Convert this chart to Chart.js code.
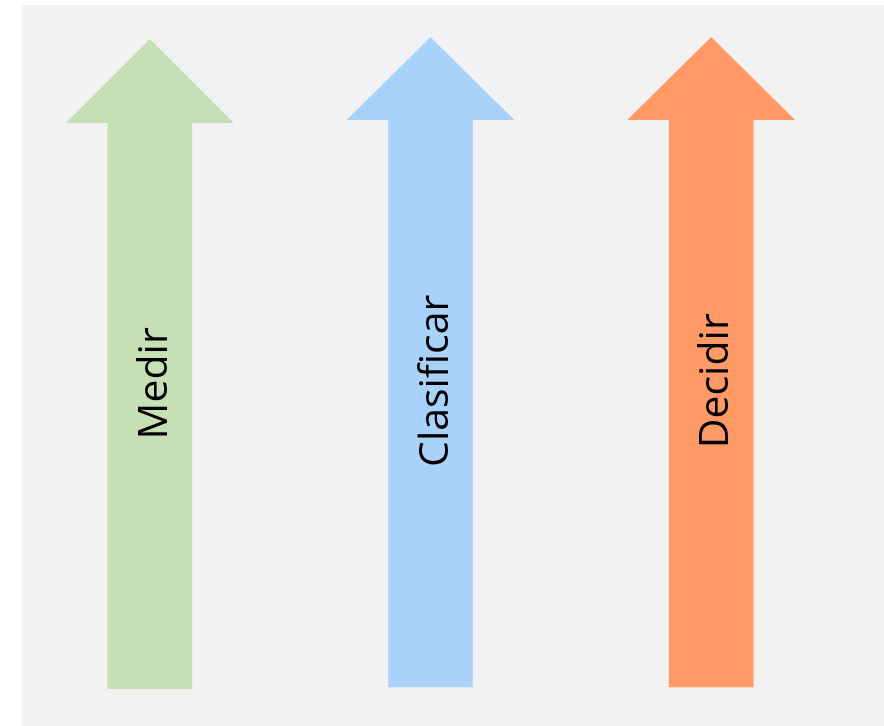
<!DOCTYPE html>
<html>
<head>
<meta charset="utf-8">
<script src="https://cdn.jsdelivr.net/npm/chart.js@4"></script>
<style>
    html, body { margin: 0; padding: 0; background: #ffffff; }
    #wrap { position: relative; width: 884px; height: 726px; overflow: hidden; }
    #panel { position: absolute; left: 21px; top: 5px; right: 0; bottom: 0; background: #f2f2f2; }
    #arrows { position: absolute; left: 0; top: 0; }
</style>
</head>
<body>
<div id="wrap">
    <div id="panel"></div>
    <canvas id="arrows" width="884" height="726"></canvas>
</div>
<script>
// pasos del proceso (una flecha por paso)
const pasos = ['Medir', 'Clasificar', 'Decidir'];
const baseFlecha = [0, 2, 2];         // pie del cuerpo
const finCuerpo = [566, 569, 569];    // arranque de la punta
const puntaFlecha = [650, 652, 652];  // vértice de la punta
const coloresFlecha = ['#c5e0b4', '#a9d2fb', '#ff9966'];

// punta triangular + texto girado sobre cada barra
const arrowPlugin = {
    id: 'arrowPlugin',
    afterDatasetsDraw(chart) {
        const ctx = chart.ctx;
        const yScale = chart.scales.y;
        const meta = chart.getDatasetMeta(0);

        meta.data.forEach((bar, i) => {
            const half = bar.width;
            const tipY = yScale.getPixelForValue(puntaFlecha[i]);

            ctx.save();
            ctx.fillStyle = coloresFlecha[i];
            ctx.beginPath();
            ctx.moveTo(bar.x - half, bar.y);
            ctx.lineTo(bar.x, tipY);
            ctx.lineTo(bar.x + half, bar.y);
            ctx.closePath();
            ctx.fill();
            ctx.restore();

            // texto centrado a ~54% del cuerpo
            const bottom = bar.base;
            const textY = bottom - (bottom - bar.y) * 0.54;
            ctx.save();
            ctx.translate(bar.x, textY);
            ctx.rotate(-Math.PI / 2);
            ctx.fillStyle = '#000000';
            ctx.font = '41px "Open Sans"';
            ctx.textAlign = 'center';
            ctx.textBaseline = 'alphabetic';
            ctx.fillText(pasos[i], 0, 17);
            ctx.restore();
        });
    }
};

function dibujar() {
    new Chart(document.getElementById('arrows'), {
        type: 'bar',
        data: {
            labels: pasos,
            datasets: [{
                data: pasos.map((p, i) => [baseFlecha[i], finCuerpo[i]]),
                backgroundColor: coloresFlecha,
                borderWidth: 0,
                borderSkipped: false,
                barThickness: 84
            }]
        },
        options: {
            responsive: false,
            animation: false,
            layout: { padding: { left: 9.5, right: 32.5, top: 37, bottom: 37 } },
            plugins: { legend: { display: false }, tooltip: { enabled: false } },
            scales: {
                x: { display: false, offset: true },
                y: { display: false, min: 0, max: 652 }
            }
        },
        plugins: [arrowPlugin]
    });
}

document.fonts.load('41px "Open Sans"').then(dibujar, dibujar);
</script>
</body>
</html>
